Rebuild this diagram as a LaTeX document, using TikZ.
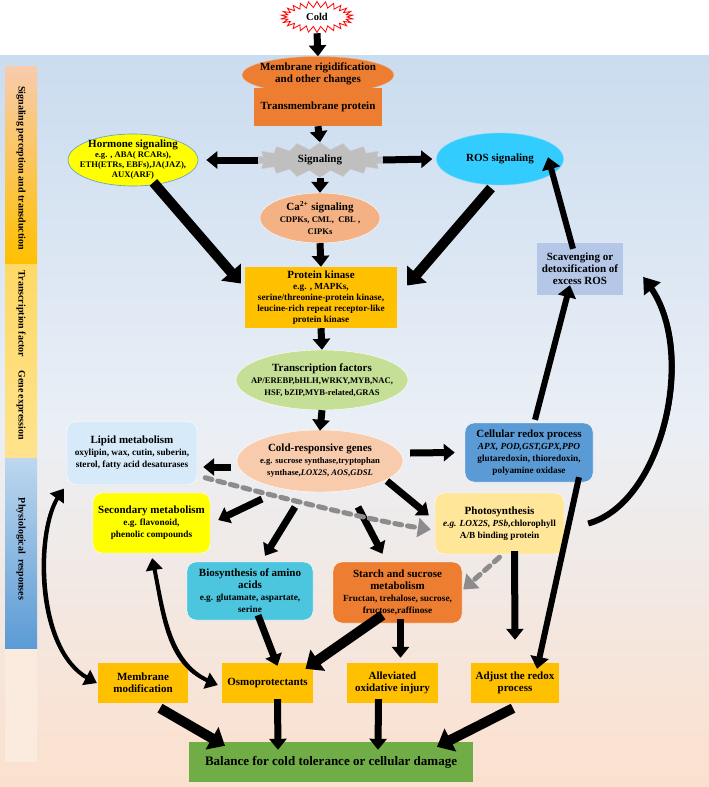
\documentclass[tikz,border=0pt]{standalone}
\usepackage{fontspec}
\setmainfont{Liberation Serif}
\usetikzlibrary{shapes.geometric,shapes.symbols,arrows.meta}
\definecolor{orangeC}{RGB}{237,125,49}
\definecolor{salmonC}{RGB}{244,177,131}
\definecolor{goldC}{RGB}{255,192,0}
\definecolor{tfC}{RGB}{197,224,150}
\definecolor{cgC}{RGB}{248,203,173}
\definecolor{lipidC}{RGB}{214,234,250}
\definecolor{redoxC}{RGB}{91,155,213}
\definecolor{scavC}{RGB}{180,199,231}
\definecolor{yelC}{RGB}{255,255,0}
\definecolor{photoC}{RGB}{255,230,153}
\definecolor{aminoC}{RGB}{75,198,222}
\definecolor{greenC}{RGB}{112,173,71}
\definecolor{rosC}{RGB}{51,204,255}
\definecolor{sigC}{RGB}{191,191,191}
\definecolor{dashC}{RGB}{140,140,140}
\definecolor{pTop}{RGB}{170,201,232}
\definecolor{pMid}{RGB}{234,239,246}
\definecolor{pMid2}{RGB}{250,226,210}
\definecolor{pBot}{RGB}{248,208,178}
\pgfdeclareverticalshading{panelshade}{100bp}{color(0bp)=(pBot); color(28bp)=(pMid2); color(50bp)=(pMid); color(100bp)=(pTop)}
\newcommand\tsz{\fontsize{11}{13}\selectfont}
\newcommand\dsz{\fontsize{9.3}{11}\selectfont}
\newcommand\esz{\fontsize{8.6}{10.5}\selectfont}
\begin{document}
\begin{tikzpicture}[x=1pt,y=-1pt,
  every node/.style={font=\bfseries, align=center, inner sep=1pt},
  txt/.style={font=\bfseries},
  arr/.style={line width=7pt, -{Triangle[length=11pt,width=17pt]}},
  barr/.style={line width=10pt, -{Triangle[length=15pt,width=25pt]}},
  larr/.style={line width=6pt, -{Triangle[length=12pt,width=18pt]}},
  curv/.style={line width=1.5pt},
  body/.style={line width=4pt, black},
  dasharr/.style={line width=5pt, dashC, dash pattern=on 7pt off 6pt, line cap=round, -{Triangle[length=13pt,width=19pt,line cap=butt]}},
  rbox/.style={rounded corners=9pt, draw=white, line width=0.4pt, inner sep=1pt},
  sbox/.style={draw=none, inner sep=1pt},
  sidetxt/.style={rotate=-90, font=\bfseries\fontsize{10}{11}\selectfont}
]
\useasboundingbox (0,0) rectangle (709,787);
\fill[white] (0,0) rectangle (709,787);
% panel background
\shade[shading=panelshade] (0,55) rectangle (709,787);
% side bar
\fill[pMid2!70!white] (5,66) rectangle (37,762);
\shade[top color=cgC, middle color=white!92!gray, bottom color=goldC] (5,66) rectangle (37,264);
\shade[top color=goldC!60!white, middle color=pMid2!60!white, bottom color=goldC!45!white] (5,264) rectangle (37,458);
\shade[top color=redoxC!40!white, middle color=pMid2!40!white, bottom color=redoxC] (5,458) rectangle (37,648);
\node[sidetxt] (s1) at (21,168) {Signaling perception and transduction};
\node[sidetxt] (s2) at (21,314) {Transcription factor};
\node[sidetxt] (s3) at (21,405) {Gene expression};
\node[sidetxt] (s4) at (21,549) {Physiological\ \ responses};

% nodes
\node[starburst, starburst points=26, starburst point height=6pt, random starburst=0, draw=red, fill=white, line width=0.8pt, minimum width=72pt, minimum height=31pt] (cold) at (317,17) {};
\node[txt, font=\bfseries\fontsize{10.5}{12}\selectfont] at (cold) {Cold};
\node[ellipse, fill=orangeC, draw=salmonC, minimum width=152pt, minimum height=37pt, inner sep=0] (memb) at (318,75) {};
\node[txt] at ([yshift=1pt]memb.center) {\tsz Membrane rigidification\\\tsz and other changes};
\node[rectangle, fill=orangeC, minimum width=128pt, minimum height=38pt] (trans) at (318,107) {\tsz Transmembrane protein};
\node[starburst, starburst points=18, starburst point height=7pt, random starburst=0, fill=sigC, draw=sigC!80!white, minimum width=135pt, minimum height=35pt] (sig) at (320,160) {};
\node[txt] at (sig) {\tsz Signaling};
\node[ellipse, fill=yelC, draw=redoxC, line width=0.6pt, minimum width=130pt, minimum height=52pt, inner sep=0] (horm) at (133,160) {};
\node[txt] at (horm) {\tsz Hormone signaling\\[-2pt]\esz e.g. , ABA( RCARs),\\[-2pt]\esz ETH(ETRs, EBFs),JA(JAZ),\\[-2pt]\esz AUX(ARF)};
\node[ellipse, fill=rosC, draw=rosC!70!white, minimum width=127pt, minimum height=52pt, inner sep=0] (ros) at (500,159) {};
\node[txt] at (ros) {\tsz ROS signaling};
\node[ellipse, fill=salmonC, draw=white, minimum width=120pt, minimum height=50pt, inner sep=0] (ca) at (320,218) {};
\node[txt] at (ca) {\tsz Ca\textsuperscript{2+} signaling\\\esz CDPKs, CML, \ CBL ,\\\esz CIPKs};
\node[sbox, fill=goldC, minimum width=152pt, minimum height=61pt] (pk) at (321,297.5) {\tsz Protein kinase\\[-1pt]\dsz e.g. , MAPKs,\\[-1pt]\dsz serine/threonine-protein kinase,\\[-1pt]\dsz leucine-rich repeat receptor-like\\[-1pt]\dsz protein kinase};
\node[ellipse, fill=tfC, draw=white, minimum width=172pt, minimum height=60pt, inner sep=0] (tf) at (322,380) {};
\node[txt] at (tf) {\tsz Transcription factors\\\esz AP/EREBP,bHLH,WRKY,MYB,NAC,\\\esz HSF, bZIP,MYB-related,GRAS};
\node[ellipse, fill=cgC, draw=white, minimum width=166pt, minimum height=62pt, inner sep=0] (cg) at (320,461) {};
\node[txt] at (cg) {\tsz Cold-responsive genes\\\esz e.g. sucrose synthase,tryptophan\\\esz synthase,\textit{LOX2S}, \textit{AOS},\textit{GDSL}};
\node[rbox, fill=lipidC, minimum width=130pt, minimum height=63pt] (lipid) at (132,453) {\tsz Lipid metabolism\\\dsz oxylipin, wax, cutin, suberin,\\\dsz sterol, fatty acid desaturases};
\node[rbox, fill=redoxC, minimum width=128pt, minimum height=59pt] (redox) at (529,452.5) {\tsz Cellular redox process\\\dsz\itshape APX, POD,GST,GPX,PPO\\\dsz glutaredoxin, thioredoxin,\\\dsz polyamine oxidase};
\node[sbox, fill=scavC, minimum width=86pt, minimum height=52pt] (scav) at (580,269) {\tsz Scavenging or\\\tsz detoxification of\\\tsz excess ROS};
\node[rbox, fill=yelC, minimum width=117pt, minimum height=60pt] (sec) at (151.5,523) {\tsz Secondary metabolism\\\dsz e.g. flavonoid,\\\dsz phenolic compounds};
\node[rbox, fill=photoC, minimum width=129pt, minimum height=61pt] (photo) at (499.5,523.5) {\tsz Photosynthesis\\\dsz\textit{e.g. LOX2S, PSb},chlorophyll\\\dsz A/B binding protein};
\node[rbox, fill=aminoC, minimum width=126pt, minimum height=58pt] (amino) at (250,591) {\tsz Biosynthesis of amino\\\tsz acids\\\dsz e.g. glutamate, aspartate,\\\dsz serine};
\node[rbox, fill=orangeC, minimum width=129pt, minimum height=61pt] (starch) at (397.5,592.5) {\tsz Starch and sucrose\\\tsz metabolism\\\dsz Fructan, trehalose, sucrose,\\\dsz fructose,raffinose};
\node[sbox, fill=goldC, minimum width=90pt, minimum height=40pt] (mm) at (143,683) {\tsz Membrane\\\tsz modification};
\node[sbox, fill=goldC, minimum width=91pt, minimum height=40pt] (osmo) at (267.5,683) {\tsz Osmoprotectants};
\node[sbox, fill=goldC, minimum width=91pt, minimum height=40pt] (alle) at (392.5,683) {\tsz Alleviated\\\tsz oxidative injury};
\node[sbox, fill=goldC, minimum width=88pt, minimum height=40pt] (adj) at (515,683) {\tsz Adjust the redox\\\tsz process};
\node[sbox, fill=greenC, minimum width=284pt, minimum height=40pt] (bal) at (331,762) {\fontsize{13}{15}\selectfont Balance for cold tolerance or cellular damage};

% main column arrows
\draw[arr] (cold.south) -- (memb.north);
\draw[arr] (trans.south) -- (sig.north);
\draw[arr] (sig.south) -- (ca.north);
\draw[arr] (ca.south) -- (pk.north);
\draw[arr] (pk.south) -- (tf.north);
\draw[arr] (tf.south) -- ([yshift=-1pt]cg.north);
\draw[arr] ([xshift=-1pt]sig.west) -- ([xshift=8pt]horm.east);
\draw[arr] ([xshift=2pt]sig.east) -- ([xshift=-4pt]ros.west);
\draw[barr] ([shift={(-4,-2)}]horm.-45) -- ([shift={(-4,-14)}]pk.west);
\draw[barr] ([shift={(-2,3)}]ros.-105) -- ([shift={(10,-12)}]pk.east);
\draw[arr] ([shift={(-6,6)}]cg.west) -- ([shift={(6,14)}]lipid.east);
\draw[arr] ([shift={(7,-8)}]cg.east) -- ([shift={(-10,0)}]redox.west);
\draw[arr] ([shift={(-58,38)}]cg.center) -- ([shift={(8,-3)}]sec.east);
\draw[arr] ([shift={(-25,46)}]cg.center) -- ([shift={(15,-6)}]amino.north);
\draw[arr] ([shift={(38,46)}]cg.center) -- ([shift={(-15,-8)}]starch.north);
\draw[arr] ([shift={(67,20)}]cg.center) -- ([shift={(-6,-8)}]photo.west);
\draw[dasharr] ([shift={(8,-7)}]lipid.south east) .. controls (300,503) and (380,522) .. ([shift={(-4,6)}]photo.west);
\draw[dasharr] ([xshift=0pt,yshift=-3pt]photo.south) -- ([shift={(1,-3)}]starch.east);
\draw[larr] ([shift={(6,-3)}]redox.north) -- ([shift={(-10,-10)}]scav.south);
\draw[larr] ([shift={(-7,6)}]scav.north) -- ([shift={(48,-28)}]ros.south);
\draw[arr] ([shift={(15,-3)}]photo.south) -- ([yshift=23pt]adj.north);
\draw[larr] ([shift={(50,-5)}]redox.south) -- ([shift={(22,6)}]adj.north);
\draw[arr] ([shift={(8,-5)}]amino.south) -- ([shift={(10,3)}]osmo.north);
\draw[barr] ([shift={(-15,-8)}]starch.south) -- ([shift={(38,6)}]osmo.north);
\draw[arr] ([shift={(3,-4)}]starch.south) -- ([shift={(8,-5)}]alle.north);
\draw[barr] ([shift={(17,5)}]mm.south) -- ([shift={(-106,4)}]bal.north);
\draw[arr] ([shift={(10,-4)}]osmo.south) -- ([shift={(-53,8)}]bal.north);
\draw[arr] ([shift={(-14,-4)}]alle.south) -- ([shift={(47,8)}]bal.north);
\draw[barr] ([shift={(-2,5)}]adj.south) -- ([shift={(106,5)}]bal.north);
% curved (tapered) arrows
\coordinate (c1s) at ([shift={(-3,4)}]lipid.south west);
\coordinate (c1e) at ([xshift=-1pt]mm.west);
\draw[body, shorten <=10pt, shorten >=10pt] (c1s) .. controls (36,530) and (36,650) .. (c1e);
\draw[curv, {Triangle[length=12pt,width=17pt]}-{Triangle[length=12pt,width=17pt]}] (c1s) .. controls (34,530) and (34,650) .. (c1e);
\coordinate (c2s) at ([shift={(-58,5)}]sec.south east);
\coordinate (c2e) at ([shift={(-4,2)}]osmo.west);
\draw[body, shorten <=10pt, shorten >=10pt] (c2s) .. controls (163,610) and (168,663) .. (c2e);
\draw[curv, {Triangle[length=12pt,width=17pt]}-{Triangle[length=12pt,width=17pt]}] (c2s) .. controls (161,610) and (166,665) .. (c2e);
\coordinate (c3s) at ([xshift=24pt]photo.east);
\coordinate (c3e) at ([shift={(20,8)}]scav.east);
\draw[line width=6pt, shorten >=12pt] (c3s) .. controls (663,503) and (697,352) .. (c3e);
\draw[curv, -{Triangle[length=15pt,width=21pt]}] (c3s) .. controls (665,505) and (700,350) .. (c3e);
\end{tikzpicture}
\end{document}
